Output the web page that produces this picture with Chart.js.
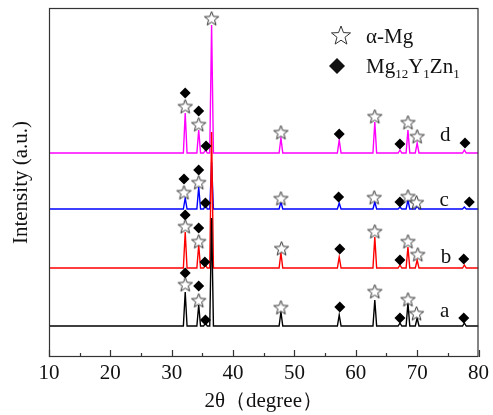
<!DOCTYPE html>
<html lang="en">
<head>
<meta charset="UTF-8">
<title>XRD patterns</title>
<script src="https://cdn.jsdelivr.net/npm/chart.js"></script>
<style>
  body { margin: 0; background: #fff; }
  #xrd { display: block; }
</style>
</head>
<body>
<canvas id="xrd" width="493" height="415"></canvas>
<script>
// peak positions (2θ) shared by the four patterns
const peakPos = [32.2, 34.4, 35.5, 36.5, 47.8, 57.3, 63.1, 67.2, 68.5, 70.0, 77.7];

// vertical offset of each pattern (a.u.)
const baseA = 31, baseB = 89, baseC = 148, baseD = 204;

// peak heights above the baseline, same order as peakPos
const peaksA = [34, 21, 3, 108, 14, 11, 26, 3, 23, 8, 3];
const peaksB = [36, 23, 3, 136, 15, 11, 31, 3, 21, 8, 3];
const peaksC = [11, 22, 4, 47, 7, 6, 7, 2, 9, 3, 2];
const peaksD = [40, 23, 3, 128, 15, 13, 31, 3, 23, 10, 3];

// phase markers [2θ, intensity]
const starsA = [[32.2, 72], [34.4, 56], [47.8, 49], [63.1, 65], [68.5, 57], [69.9, 43]];
const diamondsA = [[32.2, 84], [34.4, 71], [35.5, 37], [57.4, 50], [67.2, 39], [77.6, 39]];
const starsB = [[32.2, 130], [34.4, 115], [47.9, 108], [63.1, 125], [68.5, 115], [70.1, 102]];
const diamondsB = [[32.2, 142], [34.4, 129], [35.4, 95], [57.4, 108], [67.2, 97], [77.6, 98]];
const starsC = [[32.0, 164], [34.4, 174], [47.8, 158], [63.0, 159], [68.5, 160], [69.9, 154]];
const diamondsC = [[32.0, 178], [34.4, 187], [35.5, 154], [57.2, 160], [67.2, 155], [78.5, 155]];
const starsD = [[32.2, 250], [34.4, 232], [36.5, 338], [47.8, 224], [63.1, 240], [68.5, 234], [70.0, 220]];
const diamondsD = [[32.2, 264], [34.4, 246], [35.6, 211], [57.3, 223], [67.2, 213], [77.8, 214]];

// sample labels [text, 2θ, intensity]
const sampleLabels = [['a', 74.5, 46], ['b', 74.7, 100], ['c', 74.4, 157], ['d', 74.6, 222]];

const xMin = 10, xMax = 80, yMax = 349;

const serif = '"Liberation Serif", "Times New Roman", serif';

function pattern(base, heights) {
    const pts = [{x: xMin, y: base}];
    peakPos.forEach((p, i) => {
        pts.push({x: p - 0.3, y: base}, {x: p, y: base + heights[i]}, {x: p + 0.3, y: base});
    });
    pts.push({x: xMax, y: base});
    return pts;
}

function toPts(list) {
    return list.map(([x, y]) => ({x, y}));
}

// open star used as the alpha-Mg symbol
function starImage(r) {
    const c = document.createElement('canvas');
    const s = Math.ceil(r * 2 + 4);
    c.width = s; c.height = s;
    const g = c.getContext('2d');
    g.beginPath();
    for (let i = 0; i < 10; i++) {
        const rad = i % 2 === 0 ? r : r * 0.42;
        const a = -Math.PI / 2 + i * Math.PI / 5;
        const px = s / 2 + rad * Math.cos(a);
        const py = s / 2 + rad * Math.sin(a);
        if (i === 0) g.moveTo(px, py); else g.lineTo(px, py);
    }
    g.closePath();
    g.fillStyle = '#fff';
    g.fill();
    g.strokeStyle = '#333';
    g.lineWidth = 1;
    g.stroke();
    return c;
}

const starSmall = starImage(7.5);
const starLegend = starImage(10);

const framePlugin = {
    id: 'frame',
    afterDatasetsDraw(chart) {
        const {ctx, chartArea: a, scales: {x, y}} = chart;
        ctx.save();
        // box
        ctx.strokeStyle = '#333';
        ctx.lineWidth = 1.2;
        ctx.strokeRect(a.left + 0.5, a.top + 0.5, a.right - a.left - 1, a.bottom - a.top - 1);
        // inward ticks on the bottom axis
        ctx.beginPath();
        for (let v = xMin; v <= xMax; v += 5) {
            const px = Math.round(x.getPixelForValue(v)) + 0.5;
            const len = v % 10 === 0 ? 7 : 4;
            ctx.moveTo(px, a.bottom);
            ctx.lineTo(px, a.bottom - len);
        }
        ctx.stroke();

        // sample labels
        ctx.fillStyle = '#111';
        ctx.font = '21px ' + serif;
        ctx.textAlign = 'center';
        ctx.textBaseline = 'middle';
        sampleLabels.forEach(([t, vx, vy]) => {
            ctx.fillText(t, x.getPixelForValue(vx), y.getPixelForValue(vy));
        });

        // legend
        const lx = a.left + 292, ly = a.top + 28;
        ctx.drawImage(starLegend, lx - starLegend.width / 2, ly - starLegend.height / 2);
        ctx.textAlign = 'left';
        ctx.textBaseline = 'alphabetic';
        ctx.font = '21px ' + serif;
        ctx.fillText('α-Mg', lx + 25, ly + 7);

        const dy = ly + 30;
        ctx.beginPath();
        ctx.moveTo(lx - 4, dy - 8);
        ctx.lineTo(lx + 4, dy);
        ctx.lineTo(lx - 4, dy + 8);
        ctx.lineTo(lx - 12, dy);
        ctx.closePath();
        ctx.fill();

        let tx = lx + 25;
        const parts = [['Mg', 0], ['12', 1], ['Y', 0], ['1', 1], ['Zn', 0], ['1', 1]];
        parts.forEach(([t, sub]) => {
            ctx.font = (sub ? '13px ' : '21px ') + serif;
            ctx.fillText(t, tx, dy + 7 + (sub ? 5 : 0));
            tx += ctx.measureText(t).width;
        });
        ctx.restore();
    }
};

const markerStyle = {
    type: 'scatter',
    showLine: false
};

new Chart(document.getElementById('xrd'), {
    type: 'line',
    data: {
        datasets: [
            Object.assign({}, markerStyle, {
                label: 'α-Mg',
                data: toPts([...starsA, ...starsB, ...starsC, ...starsD]),
                pointStyle: starSmall,
                pointRadius: 7
            }),
            Object.assign({}, markerStyle, {
                label: 'Mg12Y1Zn1',
                data: toPts([...diamondsA, ...diamondsB, ...diamondsC, ...diamondsD]),
                pointStyle: 'rectRot',
                pointRadius: 5.5,
                backgroundColor: '#000',
                borderColor: '#000',
                borderWidth: 0
            }),
            { label: 'a', data: pattern(baseA, peaksA), borderColor: '#000000' },
            { label: 'b', data: pattern(baseB, peaksB), borderColor: '#ff0000' },
            { label: 'c', data: pattern(baseC, peaksC), borderColor: '#0000ff' },
            { label: 'd', data: pattern(baseD, peaksD), borderColor: '#ff00ff' }
        ]
    },
    options: {
        responsive: false,
        animation: false,
        devicePixelRatio: 1,
        layout: { padding: { top: 8, right: 14, left: 0, bottom: 0 } },
        elements: {
            line: { borderWidth: 1.4, tension: 0, fill: false },
            point: { radius: 0, hoverRadius: 0 }
        },
        plugins: {
            legend: { display: false },
            tooltip: { enabled: false }
        },
        scales: {
            x: {
                type: 'linear',
                min: xMin,
                max: xMax,
                grid: { display: false, drawTicks: false },
                border: { display: false },
                ticks: {
                    stepSize: 10,
                    padding: 4,
                    color: '#111',
                    font: { family: serif, size: 21 }
                },
                title: {
                    display: true,
                    text: '2θ（degree）',
                    color: '#111',
                    font: { family: serif, size: 21 },
                    padding: { top: 0, bottom: 1 }
                },
                afterFit(scale) { scale.height = 58; }
            },
            y: {
                min: 0,
                max: yMax,
                grid: { display: false, drawTicks: false },
                border: { display: false },
                ticks: { display: false },
                title: {
                    display: true,
                    text: 'Intensity (a.u.)',
                    color: '#111',
                    font: { family: serif, size: 21 },
                    padding: { top: 9, bottom: 0 }
                },
                afterFit(scale) { scale.width = 49; }
            }
        }
    },
    plugins: [framePlugin]
});
</script>
</body>
</html>
